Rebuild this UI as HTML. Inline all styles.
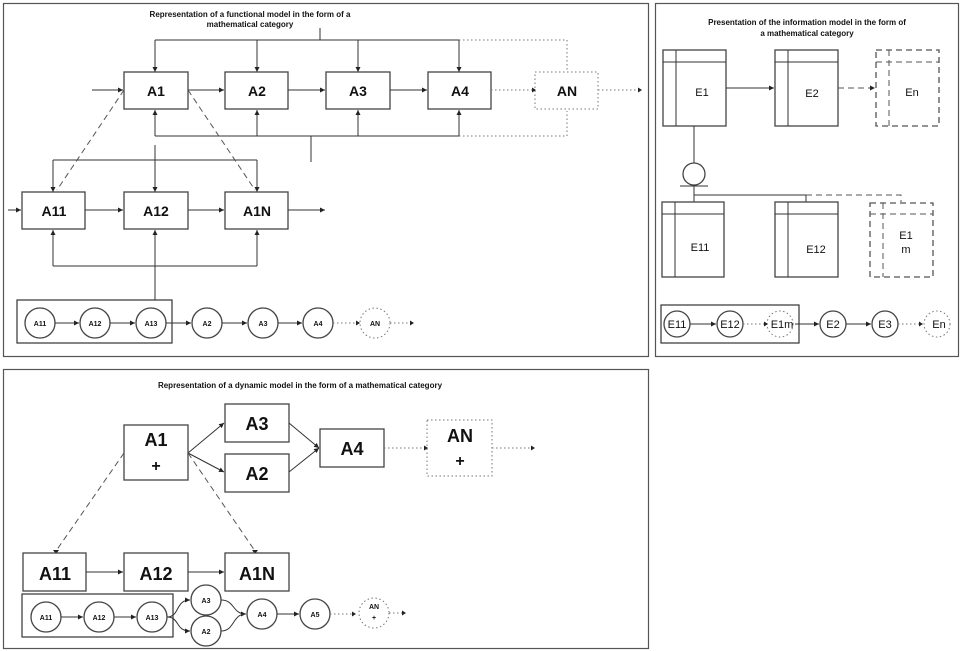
<!DOCTYPE html>
<html><head><meta charset="utf-8"><style>
html,body{margin:0;padding:0;background:#fff}
svg{display:block}
text{font-family:"Liberation Sans",Arial,sans-serif;font-weight:bold;fill:#111;text-anchor:middle}
.b{fill:#fff;stroke:#444;stroke-width:1.3}
.l{stroke:#333;stroke-width:1;fill:none}
.d{stroke:#555;stroke-width:1;fill:none;stroke-dasharray:6 4}
.o{stroke:#777;stroke-width:1;fill:none;stroke-dasharray:1.5 2.5}
.bd{fill:#fff;stroke:#777;stroke-width:1;stroke-dasharray:1.5 2.5}
.bdash{fill:#fff;stroke:#555;stroke-width:1.3;stroke-dasharray:6 4}
.n{font-weight:normal}
</style></head><body>
<svg width="961" height="651" viewBox="0 0 961 651" xmlns="http://www.w3.org/2000/svg">
<defs><marker id="a" markerWidth="6" markerHeight="6" refX="5" refY="3" orient="auto" markerUnits="userSpaceOnUse"><path d="M0,0.5 L5,3 L0,5.5z" fill="#222"/></marker></defs>
<rect x="3.5" y="3.5" width="645" height="353" fill="none" stroke="#555" stroke-width="1.2"/>
<rect x="655.5" y="3.5" width="303" height="353" fill="none" stroke="#555" stroke-width="1.2"/>
<rect x="3.5" y="369.5" width="645" height="279" fill="none" stroke="#555" stroke-width="1.2"/>

<!-- PANEL 1 -->
<text x="250" y="17" font-size="8">Representation of a functional model in the form of a</text>
<text x="250" y="27" font-size="8">mathematical category</text>
<path class="l" d="M320,28V40M155,40H459"/>
<g class="l" marker-end="url(#a)">
<path class="l" marker-end="url(#a)" d="M155,40V72"/><path class="l" marker-end="url(#a)" d="M257,40V72"/><path class="l" marker-end="url(#a)" d="M358,40V72"/><path class="l" marker-end="url(#a)" d="M459,40V72"/>
</g>
<path class="o" d="M459,40H567V70"/>
<path class="l" d="M155,136H459M311,136V162"/>
<path class="l" marker-end="url(#a)" d="M155,136V110"/><path class="l" marker-end="url(#a)" d="M257,136V110"/><path class="l" marker-end="url(#a)" d="M358,136V110"/><path class="l" marker-end="url(#a)" d="M459,136V110"/>
<path class="o" d="M459,136H567V111"/>
<rect class="b" x="124" y="72" width="64" height="37"/>
<rect class="b" x="225" y="72" width="63" height="37"/>
<rect class="b" x="326" y="72" width="64" height="37"/>
<rect class="b" x="428" y="72" width="63" height="37"/>
<rect class="bd" x="535" y="72" width="63" height="37"/>
<text x="156" y="96" font-size="14">A1</text><text x="257" y="96" font-size="14">A2</text><text x="358" y="96" font-size="14">A3</text><text x="460" y="96" font-size="14">A4</text><text x="567" y="96" font-size="14">AN</text>
<path class="l" marker-end="url(#a)" d="M92,90H123"/><path class="l" marker-end="url(#a)" d="M188,90H224"/><path class="l" marker-end="url(#a)" d="M288,90H325"/><path class="l" marker-end="url(#a)" d="M390,90H427"/>
<path class="o" d="M491,90H532M598,90H638"/>
<path d="M532,87.5L536,90L532,92.5zM638,87.5L642,90L638,92.5z" fill="#222"/>
<path class="l" d="M53,160H257"/>
<path class="l" marker-end="url(#a)" d="M53,160V192"/><path class="l" marker-end="url(#a)" d="M257,160V192"/><path class="l" marker-end="url(#a)" d="M155,145V192"/>
<path class="d" d="M124,90L57,190M188,90L255,190"/>
<rect class="b" x="22" y="192" width="63" height="37"/>
<rect class="b" x="124" y="192" width="64" height="37"/>
<rect class="b" x="225" y="192" width="63" height="37"/>
<text x="54" y="216" font-size="14">A11</text><text x="156" y="216" font-size="14">A12</text><text x="257" y="216" font-size="14">A1N</text>
<path class="l" marker-end="url(#a)" d="M8,210H21"/><path class="l" marker-end="url(#a)" d="M85,210H123"/><path class="l" marker-end="url(#a)" d="M188,210H224"/><path class="l" marker-end="url(#a)" d="M288,210H325"/>
<path class="l" d="M53,266H257"/>
<path class="l" marker-end="url(#a)" d="M53,266V230"/><path class="l" marker-end="url(#a)" d="M257,266V230"/><path class="l" marker-end="url(#a)" d="M155,300V230"/>
<rect x="17" y="300" width="155" height="43" fill="none" stroke="#333" stroke-width="1.2"/>
<circle class="b" cx="40" cy="323" r="15"/><text x="40" y="326" font-size="7">A11</text>
<circle class="b" cx="95" cy="323" r="15"/><text x="95" y="326" font-size="7">A12</text>
<circle class="b" cx="151" cy="323" r="15"/><text x="151" y="326" font-size="7">A13</text>
<circle class="b" cx="207" cy="323" r="15"/><text x="207" y="326" font-size="7">A2</text>
<circle class="b" cx="263" cy="323" r="15"/><text x="263" y="326" font-size="7">A3</text>
<circle class="b" cx="318" cy="323" r="15"/><text x="318" y="326" font-size="7">A4</text>
<circle class="bd" cx="375" cy="323" r="15"/><text x="375" y="326" font-size="7">AN</text>
<path class="l" marker-end="url(#a)" d="M55,323H79"/><path class="l" marker-end="url(#a)" d="M110,323H135"/><path class="l" marker-end="url(#a)" d="M166,323H191"/><path class="l" marker-end="url(#a)" d="M222,323H247"/><path class="l" marker-end="url(#a)" d="M278,323H302"/>
<path class="o" d="M333,323H356M390,323H410"/>
<path d="M356,320.5L360,323L356,325.5zM410,320.5L414,323L410,325.5z" fill="#222"/>

<!-- PANEL 2 -->
<text x="807" y="25" font-size="8">Presentation of the information model in the form of</text>
<text x="807" y="36" font-size="8">a mathematical category</text>
<rect class="b" x="663" y="50" width="63" height="76"/><path class="l" d="M663,62H726M676,50V126"/>
<rect class="b" x="775" y="50" width="63" height="76"/><path class="l" d="M775,62H838M788,50V126"/>
<rect class="bdash" x="876" y="50" width="63" height="76"/><path class="d" d="M876,62H939M889,50V126"/>
<text x="702" y="96" font-size="11" class="n">E1</text>
<text x="812" y="97" font-size="11" class="n">E2</text>
<text x="912" y="96" font-size="11" class="n">En</text>
<path class="l" marker-end="url(#a)" d="M726,88H774"/>
<path class="d" marker-end="url(#a)" d="M838,88H875"/>
<path class="l" d="M694,126V163"/>
<circle class="b" cx="694" cy="174" r="11"/>
<path class="l" d="M680,186H708M694,186V202M694,195H806M806,195V202"/>
<path class="d" d="M806,195H901V202"/>
<rect class="b" x="662" y="202" width="62" height="75"/><path class="l" d="M662,214H724M675,202V277"/>
<rect class="b" x="775" y="202" width="63" height="75"/><path class="l" d="M775,214H838M788,202V277"/>
<rect class="bdash" x="870" y="203" width="63" height="74"/><path class="d" d="M870,214H933M883,203V277"/>
<text x="700" y="251" font-size="11" class="n">E11</text>
<text x="816" y="253" font-size="11" class="n">E12</text>
<text x="906" y="239" font-size="11" class="n">E1</text>
<text x="906" y="253" font-size="11" class="n">m</text>
<rect x="661" y="305" width="138" height="38" fill="none" stroke="#333" stroke-width="1.2"/>
<circle class="b" cx="677" cy="324" r="13"/><text x="677" y="328" font-size="11" class="n">E11</text>
<circle class="b" cx="730" cy="324" r="13"/><text x="730" y="328" font-size="11" class="n">E12</text>
<circle class="bd" cx="780" cy="324" r="13"/><text x="782" y="328" font-size="11" class="n">E1m</text>
<circle class="b" cx="833" cy="324" r="13"/><text x="833" y="328" font-size="11" class="n">E2</text>
<circle class="b" cx="885" cy="324" r="13"/><text x="885" y="328" font-size="11" class="n">E3</text>
<circle class="bd" cx="937" cy="324" r="13"/><text x="939" y="328" font-size="11" class="n">En</text>
<path class="l" marker-end="url(#a)" d="M690,324H716"/><path class="l" marker-end="url(#a)" d="M795,324H819"/><path class="l" marker-end="url(#a)" d="M846,324H871"/>
<path class="o" d="M743,324H764M898,324H919"/>
<path d="M764,321.5L768,324L764,326.5zM919,321.5L923,324L919,326.5z" fill="#222"/>

<!-- PANEL 3 -->
<text x="300" y="388" font-size="8">Representation of a dynamic model in the form of a mathematical category</text>
<rect class="b" x="124" y="425" width="64" height="55"/>
<text x="156" y="446" font-size="18">A1</text><text x="156" y="471" font-size="16">+</text>
<rect class="b" x="225" y="404" width="64" height="38"/><text x="257" y="430" font-size="18">A3</text>
<rect class="b" x="225" y="454" width="64" height="38"/><text x="257" y="480" font-size="18">A2</text>
<rect class="b" x="320" y="429" width="64" height="38"/><text x="352" y="455" font-size="18">A4</text>
<rect class="bd" x="427" y="420" width="65" height="56"/>
<text x="460" y="442" font-size="18">AN</text><text x="460" y="466" font-size="16">+</text>
<path class="l" marker-end="url(#a)" d="M188,453L224,423"/><path class="l" marker-end="url(#a)" d="M188,453L224,472"/><path class="l" marker-end="url(#a)" d="M289,423L319,448"/><path class="l" marker-end="url(#a)" d="M289,472L319,448"/>
<path class="o" d="M384,448H424M492,448H531"/>
<path d="M424,445.5L428,448L424,450.5zM531,445.5L535,448L531,450.5z" fill="#222"/>
<path class="d" d="M124,453L56,551M188,453L255,551"/>
<path d="M53,550L59,550L56,554zM252,550L258,550L255,554z" fill="#222"/>
<rect class="b" x="23" y="553" width="63" height="38"/><text x="55" y="580" font-size="18">A11</text>
<rect class="b" x="124" y="553" width="64" height="38"/><text x="156" y="580" font-size="18">A12</text>
<rect class="b" x="225" y="553" width="64" height="38"/><text x="257" y="580" font-size="18">A1N</text>
<path class="l" marker-end="url(#a)" d="M86,572H123"/><path class="l" marker-end="url(#a)" d="M188,572H224"/>
<rect x="22" y="594" width="151" height="43" fill="none" stroke="#333" stroke-width="1.2"/>
<circle class="b" cx="46" cy="617" r="15"/><text x="46" y="620" font-size="7">A11</text>
<circle class="b" cx="99" cy="617" r="15"/><text x="99" y="620" font-size="7">A12</text>
<circle class="b" cx="152" cy="617" r="15"/><text x="152" y="620" font-size="7">A13</text>
<circle class="b" cx="206" cy="600" r="15"/><text x="206" y="603" font-size="7">A3</text>
<circle class="b" cx="206" cy="631" r="15"/><text x="206" y="634" font-size="7">A2</text>
<circle class="b" cx="262" cy="614" r="15"/><text x="262" y="617" font-size="7">A4</text>
<circle class="b" cx="315" cy="614" r="15"/><text x="315" y="617" font-size="7">A5</text>
<circle class="bd" cx="374" cy="613" r="15"/><text x="374" y="609" font-size="7">AN</text><text x="374" y="620" font-size="7">+</text>
<path class="l" marker-end="url(#a)" d="M61,617H83"/><path class="l" marker-end="url(#a)" d="M114,617H136"/>
<path class="l" marker-end="url(#a)" d="M167,617C180,617 175,600 190,600"/><path class="l" marker-end="url(#a)" d="M167,617C180,617 175,631 190,631"/><path class="l" marker-end="url(#a)" d="M221,600C235,600 232,614 246,614"/><path class="l" d="M221,631C235,631 232,614 246,614"/><path class="l" marker-end="url(#a)" d="M277,614H299"/>
<path class="o" d="M330,614H352M389,613H402"/>
<path d="M352,611.5L356,614L352,616.5zM402,610.5L406,613L402,615.5z" fill="#222"/>
</svg>
</body></html>
